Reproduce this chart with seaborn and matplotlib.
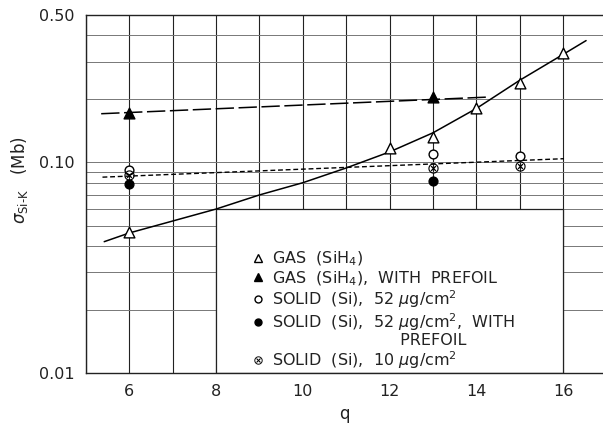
import numpy as np
import pandas as pd
import matplotlib
matplotlib.use("Agg")
import matplotlib.pyplot as plt
import seaborn as sns
from matplotlib.patches import Rectangle
from matplotlib.lines import Line2D
from matplotlib.ticker import FixedLocator, NullFormatter, MultipleLocator

# measured points
gas_q = [6, 12, 13, 14, 15, 16]
gas_sigma = [0.0467, 0.117, 0.132, 0.181, 0.238, 0.330]

gas_pre_q = [6, 13]
gas_pre_sigma = [0.171, 0.204]

solid52_q = [6, 13, 15]
solid52_sigma = [0.092, 0.109, 0.107]

solid52_pre_q = [6, 13]
solid52_pre_sigma = [0.079, 0.0815]

solid10_q = [6, 13, 15]
solid10_sigma = [0.087, 0.094, 0.096]

# curves drawn through the data
gas_curve_q = [5.42, 6, 8, 9, 10, 11, 12, 13, 14, 15, 16, 16.53]
gas_curve_sigma = [0.042, 0.0462, 0.060, 0.070, 0.080, 0.094, 0.112, 0.138, 0.180, 0.245, 0.325, 0.378]

pre_curve_q = [5.35, 14.29]
pre_curve_sigma = [0.170, 0.204]

solid_curve_q = [5.38, 16.02]
solid_curve_sigma = [0.085, 0.104]

ytick_vals = [0.01, 0.10, 0.50]
ytick_labels = ["0.01", "0.10", "0.50"]
yminor_vals = [0.02, 0.03, 0.04, 0.05, 0.06, 0.07, 0.08, 0.09, 0.2, 0.3, 0.4]
xtick_vals = [6, 8, 10, 12, 14, 16]

legend_labels = [
    r"GAS  (SiH$_4$)",
    r"GAS  (SiH$_4$),  WITH  PREFOIL",
    r"SOLID  (Si),  52 $\mu$g/cm$^2$",
    r"SOLID  (Si),  52 $\mu$g/cm$^2$,  WITH",
    "                         PREFOIL",
    r"SOLID  (Si),  10 $\mu$g/cm$^2$",
]

sns.set_style("white")
plt.rcParams["font.family"] = ["DejaVu Sans"]
plt.rcParams["mathtext.fontset"] = "dejavusans"

fig = plt.figure(figsize=(6.03, 4.25), dpi=100)
ax = fig.add_axes([86 / 603, 52 / 425, 1 - 86 / 603, 358 / 425])

ax.set_yscale("log")
ax.set_xlim(5, 16.92)
ax.set_ylim(0.01, 0.5)

# grid
ax.yaxis.set_major_locator(FixedLocator(ytick_vals))
ax.yaxis.set_minor_locator(FixedLocator(yminor_vals))
ax.yaxis.set_minor_formatter(NullFormatter())
ax.set_yticklabels(ytick_labels)
ax.xaxis.set_major_locator(FixedLocator(xtick_vals))
ax.xaxis.set_minor_locator(MultipleLocator(1))
ax.set_axisbelow(True)
ax.grid(axis="y", which="both", color="#777777", linewidth=0.7)
ax.grid(axis="x", which="both", color="#222222", linewidth=0.8)
ax.tick_params(which="both", length=0, labelsize=11.5, pad=8, colors="#222222")

for s in ["left", "bottom", "top"]:
    ax.spines[s].set_color("#222222")
    ax.spines[s].set_linewidth(1.0)
ax.spines["right"].set_visible(False)

# white legend box covering the grid
ax.add_patch(Rectangle((8, 0.01), 8, 0.05, facecolor="white", edgecolor="#222222",
                       linewidth=0.9, zorder=1.5))

# curves
sns.lineplot(x=gas_curve_q, y=gas_curve_sigma, ax=ax, color="black", linewidth=1.1,
             sort=True, zorder=3)
ax.plot(pre_curve_q, pre_curve_sigma, color="black", linewidth=1.1,
        linestyle=(0, (12, 3)), zorder=3)
ax.plot(solid_curve_q, solid_curve_sigma, color="black", linewidth=1.0,
        linestyle=(0, (3.5, 2)), zorder=3)

# points
mk = dict(ax=ax, edgecolor="black", linewidth=1.0, zorder=4, legend=False)
sns.scatterplot(x=gas_q, y=gas_sigma, marker="^", s=60, color="white", **mk)
sns.scatterplot(x=gas_pre_q, y=gas_pre_sigma, marker="^", s=60, color="black", **mk)
sns.scatterplot(x=solid52_q, y=solid52_sigma, marker="o", s=40, color="white", **mk)
sns.scatterplot(x=solid52_pre_q, y=solid52_pre_sigma, marker="o", s=40, color="black", **mk)
ax.scatter(solid10_q, solid10_sigma, marker=r"$\otimes$", s=55, color="black",
           linewidths=0, zorder=4)

handles = [
    Line2D([], [], marker="^", ls="", mfc="white", mec="black", ms=6),
    Line2D([], [], marker="^", ls="", mfc="black", mec="black", ms=6),
    Line2D([], [], marker="o", ls="", mfc="white", mec="black", ms=5),
    Line2D([], [], marker="o", ls="", mfc="black", mec="black", ms=5),
    Line2D([], [], ls="", marker=None),
    Line2D([], [], marker=r"$\otimes$", ls="", color="black", ms=6, mew=0),
]
leg = ax.legend(handles, legend_labels, loc="upper left",
                bbox_to_anchor=((242 - 86) / 517, (373 - 242) / 358),
                frameon=False, borderpad=0, handletextpad=0.4, handlelength=1.0,
                labelspacing=0.05, fontsize=11.5)
for t in leg.get_texts():
    t.set_color("#222222")

ax.set_xlabel("q", fontsize=12, labelpad=4, color="#222222")
ax.set_ylabel("")
fig.text(20 / 603, 1 - 180 / 425, "$\\sigma_{\\mathrm{Si\u2010K}}$   (Mb)", rotation=90,
         ha="center", va="center", fontsize=12, color="#222222")

fig.savefig("out.png", dpi=100)
